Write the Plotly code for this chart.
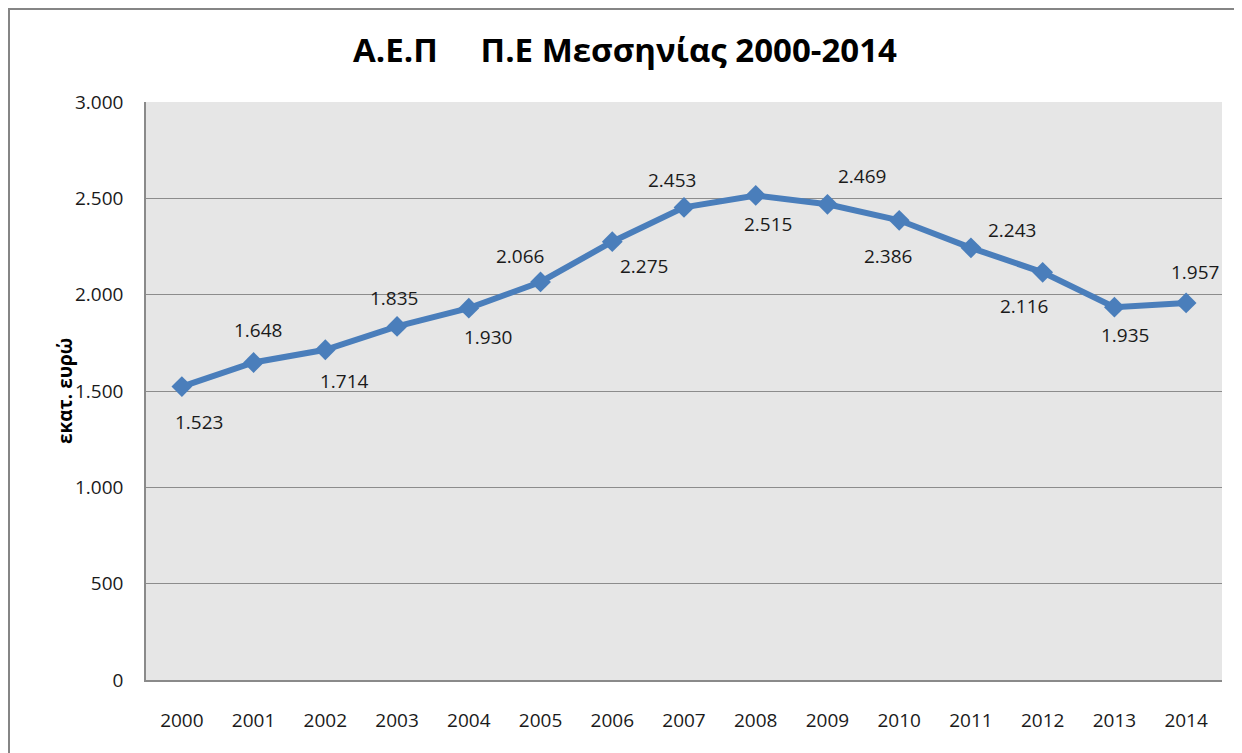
import plotly.graph_objects as go

# ---- data ----
years = ["2000", "2001", "2002", "2003", "2004", "2005", "2006", "2007",
         "2008", "2009", "2010", "2011", "2012", "2013", "2014"]
gdp = [1523, 1648, 1714, 1835, 1930, 2066, 2275, 2453,
       2515, 2469, 2386, 2243, 2116, 1935, 1957]
y_ticks = [0, 500, 1000, 1500, 2000, 2500, 3000]

title_text = "Α.Ε.Π\u00a0\u00a0\u00a0\u00a0\u00a0Π.Ε Μεσσηνίας 2000-2014"
y_title = "εκατ. ευρώ"

# label placement offsets (pixels, relative to each point)
label_dx = [17, 4, 19, -3, 19, -21, 32, -12, 12, 35, -11, 41, -19, 11, 9]
label_dy = [35, -32, 31, -28, 29, -26, 24, -27, 29, -28, 36, -18, 34, 28, -31]


def fmt(v):
    return f"{v:,}".replace(",", ".")


# page body has an 8px margin, so the figure is laid out 8px in from the window
OFF = 8
W, H = 1242 - OFF, 753 - OFF
ML, MR, MT, MB = 146 - OFF, 20, 102 - OFF, 73
PW, PH = W - ML - MR, H - MT - MB

FONT = "Open Sans"
LINE_COLOR = "#4A7EBB"

fig = go.Figure()
fig.add_trace(go.Scatter(
    x=years, y=gdp, mode="lines+markers",
    line=dict(color=LINE_COLOR, width=6),
    marker=dict(symbol="diamond", size=16, color=LINE_COLOR),
    hoverinfo="x+y", showlegend=False,
))

for i, (v, dx, dy) in enumerate(zip(gdp, label_dx, label_dy)):
    fig.add_annotation(
        x=i, y=v, xref="x", yref="y", text=fmt(v), showarrow=False,
        xshift=dx, yshift=-dy,
        font=dict(family=FONT, size=19, color="#1a1a1a"),
    )

# y-axis title
fig.add_annotation(
    x=(50 - OFF - ML) / PW, y=0.5, xref="paper", yref="paper",
    text=f"<b>{y_title}</b>", textangle=-90, showarrow=False,
    font=dict(family=FONT, size=19, color="#000000"),
)

# outer frame
fig.add_shape(
    type="rect", xref="paper", yref="paper",
    x0=(1 - ML) / PW, x1=(W + 20 - ML) / PW,
    y0=-(H + 20 - MT - PH) / PH, y1=1 + (MT - 1) / PH,
    line=dict(color="#858585", width=2), fillcolor="rgba(0,0,0,0)", layer="below",
)

fig.update_layout(
    width=W, height=H,
    margin=dict(l=ML, r=MR, t=MT, b=MB),
    paper_bgcolor="white",
    plot_bgcolor="#E6E6E6",
    title=dict(
        text=f"<b>{title_text}</b>", x=0.5, xanchor="center",
        y=1 - (50 - OFF) / H, yref="container", yanchor="middle",
        font=dict(family=FONT, size=33, color="#000000"),
    ),
    font=dict(family=FONT),
)

fig.update_xaxes(
    type="category", range=[-0.5, len(years) - 0.5],
    showgrid=False, showline=True, linecolor="#8A8A8A", linewidth=1.5,
    ticks="", ticklabelstandoff=22,
    tickfont=dict(family=FONT, size=19, color="#1a1a1a"),
    zeroline=False,
)
fig.update_yaxes(
    range=[0, 3000], tickvals=y_ticks, ticktext=[fmt(t) for t in y_ticks],
    showgrid=True, gridcolor="#8C8C8C", gridwidth=1,
    showline=True, linecolor="#8A8A8A", linewidth=1.5,
    ticks="", ticklabelstandoff=17,
    tickfont=dict(family=FONT, size=19, color="#1a1a1a"),
    zeroline=False,
)

fig.write_html("out.html")
